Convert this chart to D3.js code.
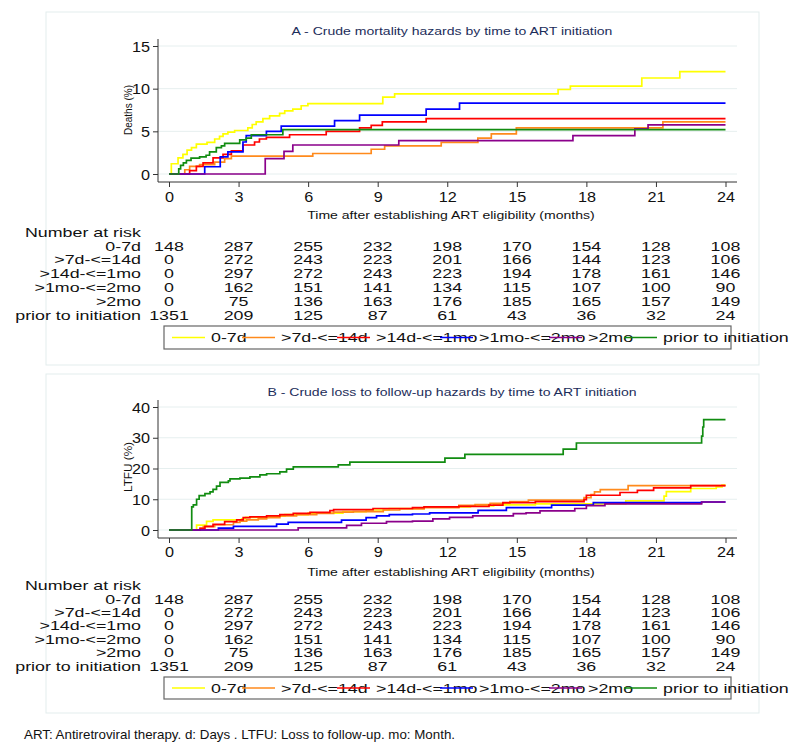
<!DOCTYPE html>
<html>
<head>
<meta charset="utf-8">
<script src="https://cdn.jsdelivr.net/npm/d3@7/dist/d3.min.js"></script>
<style>
  body { margin: 0; background: #fff; }
  text { font-family: "Liberation Sans", Arial, sans-serif; }
</style>
</head>
<body>
<svg id="chart" width="800" height="753"></svg>
<script>
// tick labels
const monthTicks = [0, 3, 6, 9, 12, 15, 18, 21, 24]
const mortTicks = [0, 5, 10, 15]
const ltfuTicks = [0, 10, 20, 30, 40]

const groups = ['0-7d', '>7d-<=14d', '>14d-<=1mo', '>1mo-<=2mo', '>2mo', 'prior to initiation']
const groupColors = ['#ffff00', '#ff8a1c', '#ff0000', '#0000ff', '#8b008b', '#118c11']

// number at risk (same table under both panels)
const risk0to7d = [148, 287, 255, 232, 198, 170, 154, 128, 108]
const risk7to14d = [0, 272, 243, 223, 201, 166, 144, 123, 106]
const risk14dto1mo = [0, 297, 272, 243, 223, 194, 178, 161, 146]
const risk1to2mo = [0, 162, 151, 141, 134, 115, 107, 100, 90]
const risk2mo = [0, 75, 136, 163, 176, 185, 165, 157, 149]
const riskPrior = [1351, 209, 125, 87, 61, 43, 36, 32, 24]

// A - cumulative deaths (%), [month, value] steps
const mort0to7d = [[0,0],[0.1,1.2],[0.39,1.9],[0.6,2.3],[0.78,2.8],[0.97,3.1],[1.18,3.5],[1.64,3.7],[1.97,4.1],[2.18,4.4],[2.33,4.7],[2.54,4.9],[2.83,5.1],[3.4,5.4],[3.59,5.8],[3.76,6.1],[4.05,6.5],[4.34,6.8],[4.77,7.1],[4.99,7.4],[5.34,7.6],[5.7,8.0],[5.99,8.25],[9.22,9.0],[9.73,9.4],[16.78,9.9],[17.31,10.3],[20.39,11.25],[22.03,12.0],[24,12.0]]
const mort7to14d = [[0,0],[0.68,0.5],[0.89,0.9],[1.32,1.1],[1.97,1.4],[2.4,1.8],[2.69,2.1],[6.2,2.4],[8.72,2.9],[9.3,3.3],[11.74,3.7],[13.32,4.2],[13.9,4.7],[14.98,5.4],[21.3,6.1],[24,6.1]]
const mort14dto1mo = [[0,0],[0.89,0.4],[1.18,0.9],[1.47,1.3],[1.9,1.9],[2.33,2.3],[2.69,2.7],[3.19,3.4],[3.69,3.75],[3.9,4.1],[4.2,4.3],[5.2,4.6],[6.78,5.0],[8.22,5.4],[8.72,5.7],[9.2,6.1],[11.09,6.5],[24,6.5]]
const mort1to2mo = [[0,0],[1.54,0.85],[2.21,2.0],[2.54,2.6],[3.19,3.75],[3.33,4.5],[4.2,5.0],[4.84,5.6],[7.14,6.25],[8.22,6.9],[11.09,7.6],[12.53,8.3],[24,8.3]]
const mort2mo = [[0,0],[4.15,1.8],[4.96,2.65],[5.34,3.4],[9.91,3.9],[17.42,4.5],[20.09,5.3],[20.66,5.75],[24,5.75]]
const mortPrior = [[0,0],[0.39,0],[0.42,0.6],[0.5,1.0],[0.62,1.3],[0.75,1.6],[0.95,1.85],[1.32,2.0],[1.6,2.2],[1.75,2.6],[2.04,3.1],[2.26,3.3],[2.4,3.6],[3.05,4.0],[3.33,4.2],[3.55,4.6],[4.91,5.2],[24,5.2]]

// B - cumulative loss to follow-up (%)
const ltfu0to7d = [[0,0],[1.19,1.6],[1.62,2.8],[1.9,3.3],[3.13,3.6],[3.3,4.1],[4.3,4.5],[5.0,5.0],[6.0,5.5],[7.5,6.0],[8.5,6.5],[9.5,7.0],[11.0,7.5],[13.0,7.8],[14.0,8.2],[15.8,8.5],[19.7,9.5],[21.35,11.0],[21.45,12.5],[22.5,13.5],[23.6,14.0],[23.85,14.6],[24,14.6]]
const ltfu7to14d = [[0,0],[1.34,0.5],[1.48,1.1],[1.97,1.7],[2.78,2.5],[3.06,2.9],[3.35,3.3],[3.85,3.6],[4.21,4.0],[4.78,4.6],[5.5,5.0],[6.37,5.4],[7.1,5.8],[7.95,6.0],[9.24,6.5],[9.95,6.9],[11.0,7.3],[12.5,8.0],[13.2,8.3],[13.85,8.7],[14.7,9.2],[15.5,9.7],[17.9,10.5],[18.2,11.5],[18.35,12.4],[18.6,13.1],[19.8,14.4],[24,14.4]]
const ltfu14dto1mo = [[0,0],[1.34,0.5],[1.55,1.2],[1.9,1.8],[2.4,2.7],[2.92,3.3],[3.2,4.0],[3.49,4.3],[4.21,4.6],[4.78,5.0],[5.36,5.4],[6.08,5.7],[6.94,6.3],[7.1,6.6],[8.8,7.0],[10.5,7.3],[11.0,7.5],[12.5,7.7],[13.8,8.1],[14.4,8.9],[15.8,9.2],[17.9,9.9],[18.0,11.3],[19.45,12.2],[20.2,12.9],[20.9,13.7],[22.5,14.4],[24,14.4]]
const ltfu1to2mo = [[0,0],[2.13,0.6],[2.78,1.2],[4.64,1.9],[5.14,2.5],[7.44,3.2],[8.5,4.0],[8.95,4.6],[9.5,5.0],[10.5,5.2],[11.24,5.6],[13.33,6.4],[14.55,7.3],[16.5,8.1],[18.3,8.9],[22.97,9.1],[24,9.1]]
const ltfu2mo = [[0,0],[5.57,0.7],[7.66,1.5],[8.3,2.2],[9.38,2.7],[10.5,2.9],[11.38,3.6],[12.1,4.1],[13.1,4.6],[14.85,5.3],[15.4,5.6],[16.0,6.2],[17.5,7.0],[18.0,7.9],[18.8,8.5],[22.97,9.1],[24,9.1]]
const ltfuPrior = [[0,0],[0.98,7.5],[1.05,8.2],[1.19,10.0],[1.3,11.2],[1.55,11.8],[1.77,12.4],[1.9,13.2],[2.05,14.3],[2.2,15.5],[2.56,16.0],[2.63,16.6],[3.06,16.9],[3.49,17.3],[3.92,17.9],[4.21,18.3],[4.78,18.9],[5.07,19.8],[5.36,20.5],[7.3,21.2],[7.8,22.1],[11.9,23.4],[12.76,24.6],[17.0,26.3],[17.57,28.3],[22.97,30.5],[23.02,33.5],[23.06,35.9],[24,35.9]]

const riskRows = [risk0to7d, risk7to14d, risk14dto1mo, risk1to2mo, risk2mo, riskPrior]

const svg = d3.select('#chart')
const x = d3.scaleLinear().domain([0, 24]).range([169, 725.5])

// the original figure is stretched sideways, so widen text the same way
function stretch(sel, k) {
  sel.each(function () {
    var w = this.getComputedTextLength()
    d3.select(this).attr('textLength', w * k).attr('lengthAdjust', 'spacingAndGlyphs')
  })
}

var tableFont = 13, tableStretch = 1.37

function drawPanel(p) {
  var g = svg.append('g')
  var y = d3.scaleLinear().domain([p.yTicks[0], p.yTicks[p.yTicks.length - 1]]).range(p.yRange)

  g.append('rect')
    .attr('x', 46).attr('y', p.box[0]).attr('width', 713).attr('height', p.box[1] - p.box[0])
    .attr('fill', 'none').attr('stroke', '#e3eded')

  stretch(g.append('text')
    .attr('x', 452).attr('y', p.titleY)
    .attr('text-anchor', 'middle').attr('dominant-baseline', 'central')
    .attr('font-size', 11.5).attr('fill', '#1c2d5a')
    .text(p.title), 1.22)

  // grid
  g.selectAll('.grid').data(p.yTicks).enter().append('line')
    .attr('x1', 158).attr('x2', 737)
    .attr('y1', function (d) { return y(d) }).attr('y2', function (d) { return y(d) })
    .attr('stroke', '#e6efef').attr('stroke-width', 1)

  // y axis
  var yAxis = g.append('g').attr('transform', 'translate(158,0)')
    .call(d3.axisLeft(y).tickValues(p.yTicks).tickSize(5).tickPadding(3))
  yAxis.select('.domain').attr('d', 'M0,' + p.axisTop + 'V' + p.axisY).attr('stroke', '#333')
  yAxis.selectAll('.tick line').attr('stroke', '#333')
  yAxis.selectAll('.tick text').attr('font-size', 15).attr('font-family', '"Liberation Sans", Arial, sans-serif')
    .attr('fill', '#111').attr('dy', '0.34em')
  stretch(yAxis.selectAll('.tick text'), 1.08)

  g.append('text')
    .attr('transform', 'translate(128,' + p.yTitleY + ') rotate(-90)')
    .attr('text-anchor', 'middle').attr('dominant-baseline', 'central')
    .attr('font-size', 11).attr('fill', '#111')
    .attr('textLength', 50).attr('lengthAdjust', 'spacingAndGlyphs')
    .text(p.yTitle)

  // x axis
  var xAxis = g.append('g').attr('transform', 'translate(0,' + p.axisY + ')')
    .call(d3.axisBottom(x).tickValues(monthTicks).tickSize(5).tickPadding(4))
  xAxis.select('.domain').attr('d', 'M158,0H737').attr('stroke', '#333')
  xAxis.selectAll('.tick line').attr('stroke', '#333')
  xAxis.selectAll('.tick text').attr('font-size', 15).attr('font-family', '"Liberation Sans", Arial, sans-serif')
    .attr('fill', '#111').attr('y', p.tickLabelY - p.axisY).attr('dy', '0.34em')
  stretch(xAxis.selectAll('.tick text'), 1.08)

  stretch(g.append('text')
    .attr('x', 451).attr('y', p.xTitleY)
    .attr('text-anchor', 'middle').attr('dominant-baseline', 'central')
    .attr('font-size', 11.5).attr('fill', '#111')
    .text('Time after establishing ART eligibility (months)'), 1.22)

  // curves
  var line = d3.line()
    .x(function (d) { return x(d[0]) })
    .y(function (d) { return y(d[1]) })
    .curve(d3.curveStepAfter)
  g.selectAll('.curve').data(p.series).enter().append('path')
    .attr('d', line)
    .attr('fill', 'none')
    .attr('stroke', function (d, i) { return groupColors[i] })
    .attr('stroke-width', 1.7)

  // number at risk table
  stretch(g.append('text')
    .attr('x', 25).attr('y', p.narY).attr('dominant-baseline', 'central')
    .attr('font-size', tableFont).attr('fill', '#111')
    .text('Number at risk'), tableStretch)

  riskRows.forEach(function (row, i) {
    var ry = p.rowY + i * p.rowStep
    stretch(g.append('text')
      .attr('x', 141).attr('y', ry).attr('text-anchor', 'end').attr('dominant-baseline', 'central')
      .attr('font-size', tableFont).attr('fill', '#111')
      .text(groups[i]), tableStretch)
    var cells = g.selectAll(null).data(row).enter().append('text')
      .attr('x', function (d, j) { return x(monthTicks[j]) })
      .attr('y', ry)
      .attr('text-anchor', 'middle').attr('dominant-baseline', 'central')
      .attr('font-size', tableFont).attr('fill', '#111')
      .text(function (d) { return d })
    stretch(cells, tableStretch)
  })

  // legend
  var ly = (p.legend[0] + p.legend[1]) / 2
  g.append('rect')
    .attr('x', 164).attr('y', p.legend[0]).attr('width', 567).attr('height', p.legend[1] - p.legend[0])
    .attr('fill', 'none').attr('stroke', '#666').attr('stroke-width', 1.2)
  var textStarts = [211, 281, 376, 479, 588, 663]
  groups.forEach(function (name, i) {
    stretch(g.append('text')
      .attr('x', textStarts[i]).attr('y', ly).attr('dominant-baseline', 'central')
      .attr('font-size', tableFont).attr('fill', '#111')
      .text(name), tableStretch)
  })
  groups.forEach(function (name, i) {
    g.append('line')
      .attr('x1', textStarts[i] - 39).attr('x2', textStarts[i] - 6)
      .attr('y1', ly).attr('y2', ly)
      .attr('stroke', groupColors[i]).attr('stroke-width', 1.3)
  })
}

drawPanel({
  box: [12, 365], title: 'A - Crude mortality hazards by time to ART initiation', titleY: 31,
  yTicks: mortTicks, yRange: [174, 46], axisTop: 39, axisY: 182, yTitle: 'Deaths (%)', yTitleY: 110,
  tickLabelY: 197, xTitleY: 215, narY: 232, rowY: 246, rowStep: 13.8, legend: [326, 349],
  series: [mort0to7d, mort7to14d, mort14dto1mo, mort1to2mo, mort2mo, mortPrior]
})

drawPanel({
  box: [374, 713], title: 'B - Crude loss to follow-up hazards by time to ART initiation', titleY: 392,
  yTicks: ltfuTicks, yRange: [530, 407], axisTop: 400, axisY: 538, yTitle: 'LTFU (%)', yTitleY: 467,
  tickLabelY: 552, xTitleY: 572, narY: 585, rowY: 599, rowStep: 13.4, legend: [677, 699],
  series: [ltfu0to7d, ltfu7to14d, ltfu14dto1mo, ltfu1to2mo, ltfu2mo, ltfuPrior]
})

svg.append('text')
  .attr('x', 24).attr('y', 734).attr('dominant-baseline', 'central')
  .attr('font-family', 'Lato, "Open Sans", sans-serif').attr('font-size', 13).attr('fill', '#111')
  .attr('textLength', 431).attr('lengthAdjust', 'spacingAndGlyphs')
  .text('ART: Antiretroviral therapy. d: Days . LTFU: Loss to follow-up. mo: Month.')
</script>
</body>
</html>
